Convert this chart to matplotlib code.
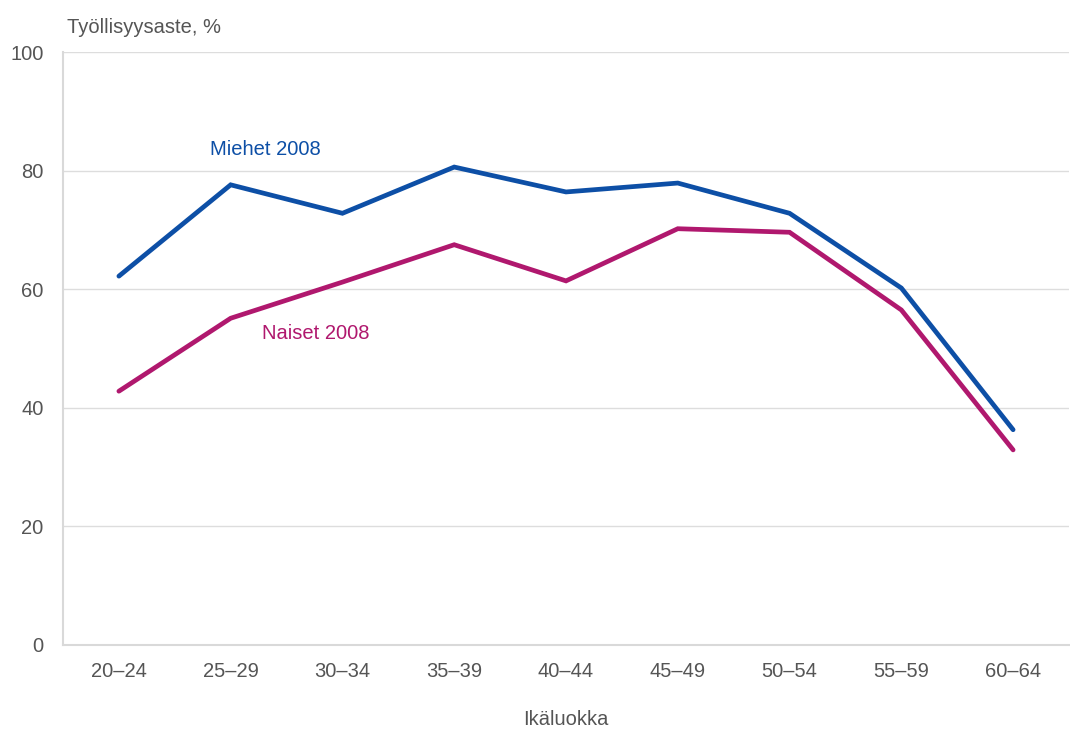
import numpy as np
import matplotlib.pyplot as plt

plt.rcParams['font.family'] = ['Liberation Sans', 'DejaVu Sans']

# Työllisyysaste ikäluokittain 2008
age_groups = ['20–24', '25–29', '30–34', '35–39', '40–44', '45–49', '50–54', '55–59', '60–64']
miehet = [62.2, 77.6, 72.8, 80.6, 76.4, 77.9, 72.8, 60.2, 36.3]
naiset = [42.8, 55.1, 61.2, 67.5, 61.4, 70.2, 69.6, 56.5, 32.9]

blue = '#0d4fa6'
pink = '#b0186e'
grey = '#555555'
fs = 14.5

fig = plt.figure(figsize=(10.7, 7.31), dpi=100)
ax = fig.add_axes([63 / 1070, 86 / 731, 1006 / 1070, 593 / 731])

x = np.arange(len(age_groups))
ax.plot(x, miehet, color=blue, lw=3.4, solid_capstyle='round', solid_joinstyle='miter')
ax.plot(x, naiset, color=pink, lw=3.4, solid_capstyle='round', solid_joinstyle='miter')

ax.text(1.31, 83.5, 'Miehet 2008', color=blue, fontsize=fs, ha='center', va='center')
ax.text(1.76, 52.6, 'Naiset 2008', color=pink, fontsize=fs, ha='center', va='center')

ax.set_xlim(-0.5, len(age_groups) - 0.5)
ax.set_ylim(0, 100)
ax.set_xticks(x)
ax.set_xticklabels(age_groups)
ax.set_yticks([0, 20, 40, 60, 80, 100])
ax.tick_params(length=0, labelsize=fs, colors=grey)
ax.tick_params(axis='x', pad=12)
ax.tick_params(axis='y', pad=14)

ax.grid(axis='y', color='#dddddd', lw=1)
ax.set_axisbelow(True)
for s in ['top', 'right']:
    ax.spines[s].set_visible(False)
for s in ['left', 'bottom']:
    ax.spines[s].set_color('#d9d9d9')
    ax.spines[s].set_linewidth(1.5)

fig.text(67 / 1070, 1 - 33 / 731, 'Työllisyysaste, %', fontsize=fs, color=grey, ha='left', va='baseline')
ax.set_xlabel('Ikäluokka', fontsize=fs, color=grey, labelpad=21)

fig.savefig('out.png', dpi=100)
